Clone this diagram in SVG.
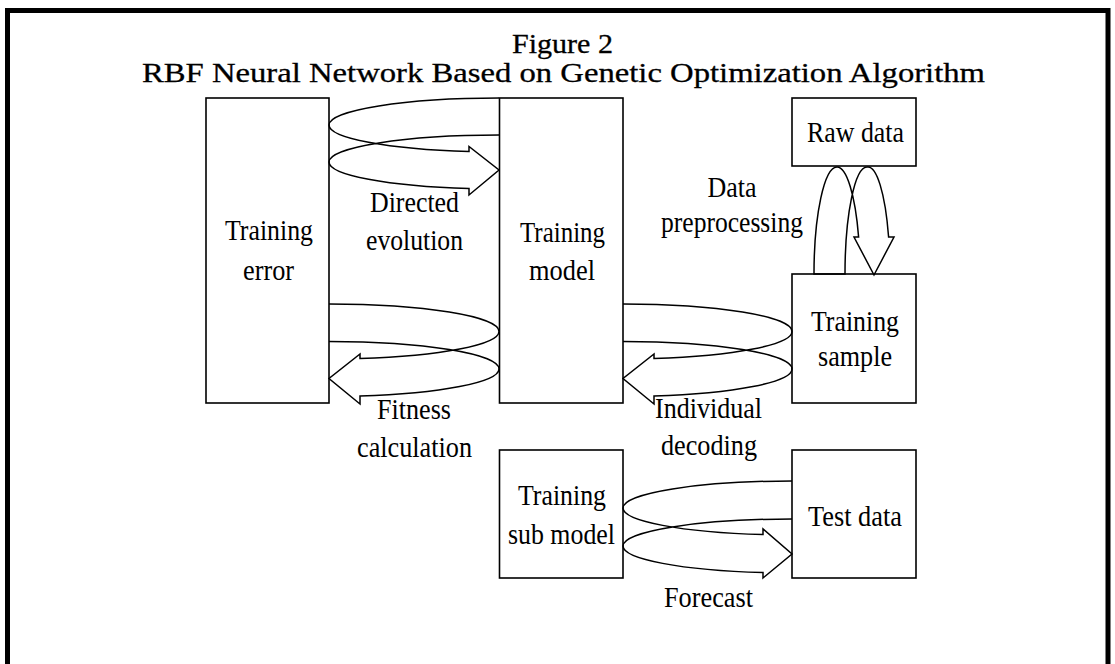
<svg xmlns="http://www.w3.org/2000/svg" width="1115" height="664" viewBox="0 0 1115 664">
<style>
.box{fill:none;stroke:#000;stroke-width:1.6}
.con{fill:none;stroke:#000;stroke-width:1.5;stroke-linejoin:miter}
.lbl{font-family:"Liberation Serif","Times New Roman",serif;font-size:30px;fill:#000;text-anchor:middle}
.ttl{font-family:"Liberation Serif","Times New Roman",serif;font-size:28px;fill:#000;stroke:#000;stroke-width:0.3;text-anchor:middle}
</style>
<rect width="1115" height="664" fill="#fff"/>
<path d="M7.5,664 V10.5 H1108 V664" fill="none" stroke="#000" stroke-width="5"/>
<g id="title">
<text class="ttl" x="562.5" y="53" textLength="101" lengthAdjust="spacingAndGlyphs">Figure 2</text>
<text class="ttl" x="563.5" y="82" textLength="843" lengthAdjust="spacingAndGlyphs">RBF Neural Network Based on Genetic Optimization Algorithm</text>
</g>
<g id="node-training-error">
<rect class="box" x="206" y="98" width="123" height="305"/>
<text class="lbl" x="269" y="240" textLength="88" lengthAdjust="spacingAndGlyphs">Training</text>
<text class="lbl" x="268.5" y="280" textLength="51" lengthAdjust="spacingAndGlyphs">error</text>
</g>
<g id="node-training-model">
<rect class="box" x="499.5" y="98" width="123.5" height="305"/>
<text class="lbl" x="562.5" y="241.5" textLength="85" lengthAdjust="spacingAndGlyphs">Training</text>
<text class="lbl" x="562" y="280" textLength="66" lengthAdjust="spacingAndGlyphs">model</text>
</g>
<g id="node-raw-data">
<rect class="box" x="792" y="98" width="124" height="68"/>
<text class="lbl" x="855.5" y="142" textLength="97" lengthAdjust="spacingAndGlyphs">Raw data</text>
</g>
<g id="node-training-sample">
<rect class="box" x="792" y="274" width="124" height="129"/>
<text class="lbl" x="855" y="330.5" textLength="88" lengthAdjust="spacingAndGlyphs">Training</text>
<text class="lbl" x="855" y="366" textLength="74" lengthAdjust="spacingAndGlyphs">sample</text>
</g>
<g id="node-training-sub-model">
<rect class="box" x="499.5" y="450" width="123.5" height="128"/>
<text class="lbl" x="562" y="505" textLength="88" lengthAdjust="spacingAndGlyphs">Training</text>
<text class="lbl" x="561.5" y="544" textLength="107" lengthAdjust="spacingAndGlyphs">sub model</text>
</g>
<g id="node-test-data">
<rect class="box" x="792" y="450" width="124" height="128"/>
<text class="lbl" x="855" y="526" textLength="94" lengthAdjust="spacingAndGlyphs">Test data</text>
</g>
<g id="connectors">
<path class="con" d="M499,98 A170,27 0 0 0 329,125 A170,27 0 0 0 469,151.6 L469,146.5 L499,170 L469,195 L469,188.6 A170,27 0 0 1 329,162 A170,27 0 0 1 499,135"/>
<path class="con" d="M329,304 A170,27.5 0 0 1 499,331.5 A170,27.5 0 0 1 360,358.5 L360,354 L329,378.5 L360,404 L360,396 A170,27.5 0 0 0 499,369 A170,27.5 0 0 0 329,341.5"/>
<path class="con" d="M623,304 A169,27.5 0 0 1 792,331.5 A169,27.5 0 0 1 654,358.5 L654,354 L623,378.5 L654,404 L654,396 A169,27.5 0 0 0 792,369 A169,27.5 0 0 0 623,341.5"/>
<path class="con" d="M792,481 A169,27 0 0 0 623,508 A169,27 0 0 0 763,534.6 L763,529 L792,554 L763,578 L763,572.6 A169,27 0 0 1 623,546 A169,27 0 0 1 792,519"/>
<path class="con" d="M814,274 A23,107 0 0 1 837,167 A23,107 0 0 1 858.6,237 L854,237 L874,275 L894,237 L888.6,237 A22,107 0 0 0 867,167 A22,107 0 0 0 845,274 Z"/>
<text class="lbl" x="414.5" y="212" textLength="89" lengthAdjust="spacingAndGlyphs">Directed</text>
<text class="lbl" x="414.5" y="250" textLength="97" lengthAdjust="spacingAndGlyphs">evolution</text>
<text class="lbl" x="732" y="197" textLength="49" lengthAdjust="spacingAndGlyphs">Data</text>
<text class="lbl" x="732" y="232" textLength="142" lengthAdjust="spacingAndGlyphs">preprocessing</text>
<text class="lbl" x="414" y="419" textLength="74" lengthAdjust="spacingAndGlyphs">Fitness</text>
<text class="lbl" x="414.5" y="457" textLength="115" lengthAdjust="spacingAndGlyphs">calculation</text>
<text class="lbl" x="708.5" y="418" textLength="107" lengthAdjust="spacingAndGlyphs">Individual</text>
<text class="lbl" x="709" y="455" textLength="96" lengthAdjust="spacingAndGlyphs">decoding</text>
<text class="lbl" x="708.5" y="607" textLength="89" lengthAdjust="spacingAndGlyphs">Forecast</text>
</g>
</svg>
